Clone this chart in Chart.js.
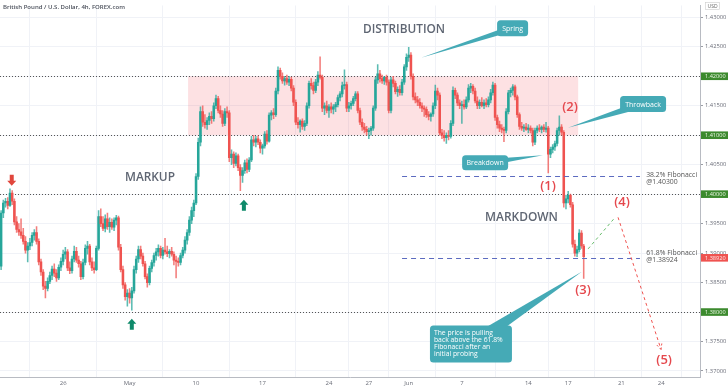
<!DOCTYPE html>
<html><head><meta charset="utf-8">
<script src="https://cdn.jsdelivr.net/npm/chart.js@4.4.0/dist/chart.umd.min.js"></script>
<style>html,body{margin:0;padding:0;background:#fff}#w{width:728px;height:391px;position:relative}</style>
</head><body><div id="w"><canvas id="c"></canvas></div>
<script>
// ---- GBP/USD 4h candles (bar index 0 = first candle on the left) ----
const opens=[
1.3878,1.3968,1.3985,1.3988,1.3981,1.4002,1.3988,1.3953,1.3940,1.3936,1.3930,1.3920,
1.3905,1.3912,1.3918,1.3930,1.3935,1.3920,1.3885,1.3868,1.3844,1.3840,1.3852,1.3862,
1.3873,1.3866,1.3858,1.3876,1.3886,1.3898,1.3902,1.3875,1.3870,1.3890,1.3903,1.3888,
1.3882,1.3860,1.3884,1.3908,1.3912,1.3885,1.3875,1.3872,1.3908,1.3962,1.3950,1.3942,
1.3958,1.3945,1.3952,1.3944,1.3956,1.3960,1.3910,1.3872,1.3846,1.3826,1.3832,1.3824,
1.3836,1.3872,1.3890,1.3906,1.3895,1.3882,1.3860,1.3850,1.3874,1.3884,1.3896,1.3902,
1.3908,1.3896,1.3905,1.3902,1.3899,1.3903,1.3898,1.3888,1.3886,1.3884,1.3896,1.3905,
1.3922,1.3935,1.3956,1.3972,1.3985,1.4030,1.4088,1.4140,1.4122,1.4118,1.4125,1.4132,
1.4128,1.4150,1.4162,1.4142,1.4136,1.4120,1.4140,1.4138,1.4062,1.4068,1.4052,1.4065,
1.4045,1.4032,1.4040,1.4053,1.4042,1.4058,1.4092,1.4088,1.4094,1.4088,1.4078,1.4082,
1.4102,1.4090,1.4134,1.4138,1.4135,1.4175,1.4210,1.4200,1.4192,1.4196,1.4190,1.4195,
1.4180,1.4156,1.4122,1.4118,1.4124,1.4115,1.4120,1.4150,1.4188,1.4184,1.4176,1.4190,
1.4202,1.4198,1.4146,1.4150,1.4142,1.4148,1.4144,1.4148,1.4152,1.4164,1.4170,1.4184,
1.4186,1.4146,1.4150,1.4154,1.4162,1.4170,1.4142,1.4122,1.4114,1.4110,1.4106,1.4108,
1.4112,1.4146,1.4194,1.4204,1.4196,1.4192,1.4198,1.4190,1.4142,1.4194,1.4188,1.4174,
1.4178,1.4172,1.4190,1.4216,1.4232,1.4236,1.4200,1.4165,1.4160,1.4156,1.4150,1.4146,
1.4144,1.4135,1.4132,1.4136,1.4150,1.4175,1.4168,1.4104,1.4100,1.4096,1.4100,1.4098,
1.4120,1.4176,1.4168,1.4155,1.4150,1.4152,1.4148,1.4160,1.4180,1.4183,1.4175,1.4158,
1.4150,1.4156,1.4150,1.4155,1.4152,1.4160,1.4172,1.4185,1.4130,1.4118,1.4112,1.4110,
1.4108,1.4140,1.4172,1.4176,1.4182,1.4165,1.4135,1.4115,1.4112,1.4114,1.4110,1.4112,
1.4108,1.4088,1.4108,1.4112,1.4110,1.4114,1.4110,1.4112,1.4068,1.4076,1.4080,1.4086,
1.4108,1.4114,1.4105,1.3985,1.3992,1.3998,1.3982,1.3915,1.3900,1.3906,1.3934,1.3912];
const highs=[
1.3972,1.3990,1.3993,1.3994,1.4009,1.4006,1.3992,1.3962,1.3950,1.3958,1.3942,1.3928,
1.3918,1.3925,1.3935,1.3940,1.3945,1.3924,1.3890,1.3872,1.3852,1.3858,1.3868,1.3878,
1.3882,1.3872,1.3880,1.3892,1.3905,1.3910,1.3906,1.3885,1.3895,1.3912,1.3910,1.3895,
1.3886,1.3890,1.3914,1.3920,1.3915,1.3892,1.3885,1.3912,1.3972,1.3975,1.3962,1.3965,
1.3968,1.3960,1.3958,1.3960,1.3964,1.3963,1.3915,1.3878,1.3850,1.3838,1.3840,1.3842,
1.3878,1.3895,1.3912,1.3912,1.3900,1.3886,1.3865,1.3878,1.3888,1.3900,1.3908,1.3914,
1.3912,1.3910,1.3925,1.3912,1.3906,1.3910,1.3902,1.3895,1.3892,1.3900,1.3910,1.3928,
1.3940,1.3962,1.3978,1.3990,1.4035,1.4095,1.4148,1.4150,1.4135,1.4130,1.4138,1.4140,
1.4155,1.4168,1.4166,1.4150,1.4142,1.4145,1.4148,1.4142,1.4075,1.4072,1.4070,1.4068,
1.4050,1.4045,1.4058,1.4060,1.4062,1.4098,1.4100,1.4098,1.4099,1.4092,1.4085,1.4106,
1.4108,1.4138,1.4142,1.4145,1.4180,1.4216,1.4214,1.4206,1.4200,1.4202,1.4200,1.4198,
1.4184,1.4160,1.4130,1.4126,1.4128,1.4125,1.4155,1.4192,1.4196,1.4190,1.4195,1.4208,
1.4233,1.4202,1.4155,1.4158,1.4152,1.4155,1.4152,1.4156,1.4168,1.4174,1.4190,1.4211,
1.4190,1.4156,1.4158,1.4166,1.4174,1.4174,1.4146,1.4128,1.4120,1.4115,1.4112,1.4115,
1.4150,1.4198,1.4220,1.4210,1.4202,1.4200,1.4202,1.4194,1.4198,1.4200,1.4192,1.4182,
1.4184,1.4195,1.4220,1.4238,1.4249,1.4240,1.4204,1.4172,1.4166,1.4162,1.4155,1.4150,
1.4148,1.4140,1.4138,1.4155,1.4185,1.4180,1.4172,1.4110,1.4108,1.4104,1.4108,1.4125,
1.4182,1.4180,1.4172,1.4160,1.4158,1.4160,1.4165,1.4186,1.4188,1.4186,1.4180,1.4165,
1.4160,1.4164,1.4160,1.4162,1.4165,1.4178,1.4190,1.4188,1.4134,1.4124,1.4118,1.4114,
1.4145,1.4176,1.4180,1.4186,1.4185,1.4168,1.4138,1.4122,1.4118,1.4120,1.4118,1.4116,
1.4112,1.4112,1.4116,1.4118,1.4116,1.4118,1.4122,1.4115,1.4080,1.4084,1.4090,1.4112,
1.4133,1.4118,1.4108,1.3998,1.4005,1.4000,1.3986,1.3922,1.3912,1.3940,1.3938,1.3915];
const lows=[
1.3872,1.3960,1.3978,1.3975,1.3979,1.3982,1.3948,1.3935,1.3930,1.3925,1.3915,1.3900,
1.3885,1.3906,1.3912,1.3922,1.3915,1.3880,1.3862,1.3838,1.3824,1.3836,1.3848,1.3855,
1.3860,1.3852,1.3855,1.3870,1.3880,1.3890,1.3870,1.3865,1.3866,1.3885,1.3884,1.3876,
1.3855,1.3856,1.3880,1.3898,1.3880,1.3870,1.3866,1.3870,1.3905,1.3945,1.3938,1.3936,
1.3940,1.3935,1.3940,1.3938,1.3948,1.3905,1.3868,1.3840,1.3820,1.3810,1.3815,1.3803,
1.3832,1.3866,1.3884,1.3890,1.3878,1.3856,1.3842,1.3846,1.3868,1.3878,1.3888,1.3895,
1.3892,1.3890,1.3898,1.3894,1.3892,1.3895,1.3880,1.3858,1.3878,1.3880,1.3892,1.3900,
1.3915,1.3930,1.3950,1.3962,1.3982,1.4025,1.4082,1.4115,1.4112,1.4110,1.4118,1.4120,
1.4124,1.4145,1.4138,1.4130,1.4115,1.4116,1.4130,1.4055,1.4050,1.4045,1.4048,1.4040,
1.4006,1.4020,1.4035,1.4036,1.4038,1.4055,1.4082,1.4080,1.4084,1.4070,1.4068,1.4078,
1.4085,1.4088,1.4126,1.4128,1.4132,1.4170,1.4195,1.4188,1.4185,1.4186,1.4184,1.4175,
1.4150,1.4118,1.4112,1.4105,1.4110,1.4108,1.4116,1.4146,1.4178,1.4170,1.4172,1.4184,
1.4195,1.4140,1.4135,1.4138,1.4130,1.4138,1.4136,1.4140,1.4148,1.4158,1.4165,1.4178,
1.4140,1.4140,1.4144,1.4150,1.4158,1.4138,1.4118,1.4108,1.4104,1.4100,1.4094,1.4100,
1.4108,1.4142,1.4188,1.4190,1.4188,1.4186,1.4185,1.4138,1.4138,1.4182,1.4170,1.4166,
1.4168,1.4168,1.4186,1.4210,1.4225,1.4195,1.4160,1.4155,1.4150,1.4146,1.4140,1.4132,
1.4130,1.4126,1.4124,1.4132,1.4145,1.4160,1.4100,1.4094,1.4090,1.4086,1.4092,1.4095,
1.4116,1.4162,1.4150,1.4145,1.4120,1.4144,1.4145,1.4156,1.4172,1.4170,1.4155,1.4145,
1.4145,1.4148,1.4145,1.4148,1.4148,1.4155,1.4168,1.4125,1.4112,1.4106,1.4104,1.4089,
1.4104,1.4136,1.4165,1.4168,1.4160,1.4130,1.4110,1.4108,1.4106,1.4108,1.4104,1.4104,
1.4082,1.4084,1.4104,1.4106,1.4104,1.4106,1.4105,1.4036,1.4062,1.4070,1.4074,1.4082,
1.4100,1.4100,1.3978,1.3975,1.3985,1.3978,1.3910,1.3895,1.3894,1.3902,1.3908,1.3857];
const closes=[
1.3968,1.3985,1.3988,1.3981,1.4002,1.3988,1.3953,1.3940,1.3936,1.3930,1.3920,1.3905,
1.3912,1.3918,1.3930,1.3935,1.3920,1.3885,1.3868,1.3844,1.3840,1.3852,1.3862,1.3873,
1.3866,1.3858,1.3876,1.3886,1.3898,1.3902,1.3875,1.3870,1.3890,1.3903,1.3888,1.3882,
1.3860,1.3884,1.3908,1.3912,1.3885,1.3875,1.3872,1.3908,1.3962,1.3950,1.3942,1.3958,
1.3945,1.3952,1.3944,1.3956,1.3960,1.3910,1.3872,1.3846,1.3826,1.3832,1.3824,1.3836,
1.3872,1.3890,1.3906,1.3895,1.3882,1.3860,1.3850,1.3874,1.3884,1.3896,1.3902,1.3908,
1.3896,1.3905,1.3902,1.3899,1.3903,1.3898,1.3888,1.3886,1.3884,1.3896,1.3905,1.3922,
1.3935,1.3956,1.3972,1.3985,1.4030,1.4088,1.4140,1.4122,1.4118,1.4125,1.4132,1.4128,
1.4150,1.4162,1.4142,1.4136,1.4120,1.4140,1.4138,1.4062,1.4068,1.4052,1.4065,1.4045,
1.4032,1.4040,1.4053,1.4042,1.4058,1.4092,1.4088,1.4094,1.4088,1.4078,1.4082,1.4102,
1.4090,1.4134,1.4138,1.4135,1.4175,1.4210,1.4200,1.4192,1.4196,1.4190,1.4195,1.4180,
1.4156,1.4122,1.4118,1.4124,1.4115,1.4120,1.4150,1.4188,1.4184,1.4176,1.4190,1.4202,
1.4198,1.4146,1.4150,1.4142,1.4148,1.4144,1.4148,1.4152,1.4164,1.4170,1.4184,1.4186,
1.4146,1.4150,1.4154,1.4162,1.4170,1.4142,1.4122,1.4114,1.4110,1.4106,1.4108,1.4112,
1.4146,1.4194,1.4204,1.4196,1.4192,1.4198,1.4190,1.4142,1.4194,1.4188,1.4174,1.4178,
1.4172,1.4190,1.4216,1.4232,1.4236,1.4200,1.4165,1.4160,1.4156,1.4150,1.4146,1.4144,
1.4135,1.4132,1.4136,1.4150,1.4175,1.4168,1.4104,1.4100,1.4096,1.4100,1.4098,1.4120,
1.4176,1.4168,1.4155,1.4150,1.4152,1.4148,1.4160,1.4180,1.4183,1.4175,1.4158,1.4150,
1.4156,1.4150,1.4155,1.4152,1.4160,1.4172,1.4185,1.4130,1.4118,1.4112,1.4110,1.4108,
1.4140,1.4172,1.4176,1.4182,1.4165,1.4135,1.4115,1.4112,1.4114,1.4110,1.4112,1.4108,
1.4088,1.4108,1.4112,1.4110,1.4114,1.4110,1.4112,1.4068,1.4076,1.4080,1.4086,1.4108,
1.4114,1.4105,1.3985,1.3992,1.3998,1.3982,1.3915,1.3900,1.3906,1.3934,1.3912,1.3894];

// date labels on the time axis (bar index where each label sits)
const xTickIdx=[28,58,88,118,148,166,184,208,238,256,280,298];
const xTickText=['26','May','10','17','24','27','Jun','7','14','17','21','24'];
const yTicks=[1.370,1.375,1.380,1.385,1.390,1.395,1.400,1.405,1.410,1.415,1.420,1.425,1.430];
const keyLevels=[1.42,1.41,1.40,1.38];
const lastPrice=1.38920;
const fibPrices=[1.40300,1.38924];
const fibNames=['38.2% Fibonacci','61.8% Fibonacci'];
const rangeZone=[84.4,260.5,1.41,1.42];   // idx from, idx to, price low, price high
const waveNames=['(1)','(2)','(3)','(4)','(5)'];
const waveIdx=[246.9,256.8,262.7,280.3,299.3];
const wavePrice=[1.40141,1.41479,1.38369,1.39857,1.37183];

const UP='#26a69a', DOWN='#ef5350';
const N=closes.length;
const idx=[...Array(N).keys()];
const isUp=i=>closes[i]>=opens[i];

function fitFont(ctx,text,w,weight,fam){
  ctx.font=weight+' 20px '+fam;
  const m=ctx.measureText(text).width;
  ctx.font=weight+' '+(20*w/m).toFixed(2)+'px '+fam;
}
function rrect(ctx,x,y,w,h,r){
  ctx.beginPath();ctx.moveTo(x+r,y);ctx.lineTo(x+w-r,y);ctx.quadraticCurveTo(x+w,y,x+w,y+r);
  ctx.lineTo(x+w,y+h-r);ctx.quadraticCurveTo(x+w,y+h,x+w-r,y+h);ctx.lineTo(x+r,y+h);
  ctx.quadraticCurveTo(x,y+h,x,y+h-r);ctx.lineTo(x,y+r);ctx.quadraticCurveTo(x,y,x+r,y);ctx.closePath();
}

const annot={
  id:'annot',
  beforeDatasetsDraw(chart){
    const c=chart.ctx,X=v=>chart.scales.x.getPixelForValue(v),Y=v=>chart.scales.y.getPixelForValue(v),a=chart.chartArea;
    c.save();
    // distribution range box
    c.fillStyle='rgba(242,54,69,0.15)';
    c.fillRect(X(rangeZone[0]),Y(rangeZone[3]),X(rangeZone[1])-X(rangeZone[0]),Y(rangeZone[2])-Y(rangeZone[3]));
    // key levels dotted
    c.strokeStyle='#555';c.lineWidth=1;c.setLineDash([1,2]);
    keyLevels.forEach(p=>{const y=Math.round(Y(p))+0.5;c.beginPath();c.moveTo(a.left,y);c.lineTo(a.right,y);c.stroke();});
    c.restore();
  },
  afterDatasetsDraw(chart){
    const c=chart.ctx,X=v=>chart.scales.x.getPixelForValue(v),Y=v=>chart.scales.y.getPixelForValue(v);
    c.save();
    const FAM='"Open Sans", sans-serif';
    // fibonacci lines
    c.strokeStyle='#5c6bc0';c.lineWidth=1;c.setLineDash([5,4]);
    fibPrices.forEach(p=>{const y=Math.round(Y(p))+0.5;c.beginPath();c.moveTo(X(181),y);c.lineTo(X(288.4),y);c.stroke();});
    c.setLineDash([]);
    c.fillStyle='#555';c.textBaseline='middle';c.textAlign='left';
    fitFont(c,fibNames[0],51,'400',FAM);
    c.fillText(fibNames[0],X(291.2),Y(1.40325));
    c.fillText('@'+fibPrices[0].toFixed(5),X(291.2),Y(1.40208));
    c.fillText(fibNames[1],X(291.2),Y(1.39005));
    c.fillText('@'+fibPrices[1].toFixed(5),X(291.2),Y(1.38888));
    // phase titles
    c.fillStyle='#5f6673';c.textAlign='center';
    [['DISTRIBUTION',181.9,1.42783,82],['MARKUP',67.2,1.40275,50],['MARKDOWN',234.9,1.39607,73]].forEach(t=>{
      fitFont(c,t[0],t[3],'600',FAM);c.fillText(t[0],X(t[1]),Y(t[2]));
    });
    // projected path
    function dashArrow(x1,y1,x2,y2,col,head){
      c.strokeStyle=col;c.lineWidth=1;c.setLineDash([3,3]);
      c.beginPath();c.moveTo(x1,y1);c.lineTo(x2,y2);c.stroke();
      if(head){const ang=Math.atan2(y2-y1,x2-x1);c.setLineDash([2,2]);
        [0.45,-0.45].forEach(d=>{c.beginPath();c.moveTo(x2,y2);c.lineTo(x2-7*Math.cos(ang+d),y2-7*Math.sin(ang+d));c.stroke();});}
      c.setLineDash([]);
    }
    dashArrow(X(265),Y(1.39072),X(277.2),Y(1.39607),'#66bb6a',false);
    dashArrow(X(278.5),Y(1.39607),X(297.9),Y(1.37366),'#ef5350',true);
    // wave labels
    c.fillStyle='#e5484d';c.textAlign='center';c.font='600 13px '+FAM;
    waveNames.forEach((t,i)=>c.fillText(t,X(waveIdx[i]),Y(wavePrice[i])));
    // callouts
    const TEAL='#45aab6';
    function callout(lines,ci,cp,w,h,ti,tp,bw,fs,align){
      const cx=X(ci),cy=Y(cp),tx=X(ti),ty=Y(tp);
      const dx=tx-cx,dy=ty-cy,L=Math.hypot(dx,dy),px=-dy/L*bw,py=dx/L*bw;
      c.fillStyle=TEAL;c.beginPath();c.moveTo(cx+px,cy+py);c.lineTo(tx,ty);c.lineTo(cx-px,cy-py);c.closePath();c.fill();
      rrect(c,cx-w/2,cy-h/2,w,h,3.5);c.fill();
      c.fillStyle='#fff';c.font='500 '+fs+'px '+FAM;c.textBaseline='middle';
      if(align==='left'){c.textAlign='left';const lh=6.7,y0=cy-h/2+8;lines.forEach((t,k)=>c.fillText(t,cx-w/2+4,y0+k*lh));}
      else{c.textAlign='center';c.fillText(lines[0],cx,cy+0.5);}
    }
    callout(['Spring'],230.9,1.42816,31,16,189.6,1.42315,3,7,'c');
    callout(['Throwback'],289.8,1.41529,46,16,255.9,1.41128,4,7,'c');
    callout(['Breakdown'],218.5,1.40534,46,15,244.6,1.40660,3.5,7,'c');
    callout(['The price is pulling','back above the 61.8%','Fibonacci after an','initial probing'],212.1,1.37458,82,37,262.3,1.38687,7,6.8,'left');
    // signal arrows
    function blockArrow(cx,tipY,dir,col){
      const hw=4.5,hh=5,sw=2,sh=6;c.fillStyle=col;c.beginPath();
      c.moveTo(cx,tipY);c.lineTo(cx+hw,tipY-dir*hh);c.lineTo(cx+sw,tipY-dir*hh);c.lineTo(cx+sw,tipY-dir*(hh+sh));
      c.lineTo(cx-sw,tipY-dir*(hh+sh));c.lineTo(cx-sw,tipY-dir*hh);c.lineTo(cx-hw,tipY-dir*hh);c.closePath();c.fill();
    }
    blockArrow(X(4.8),Y(1.40141),1,'#e0463c');
    blockArrow(X(59),Y(1.37885),-1,'#0f8a6a');
    blockArrow(X(109.6),Y(1.39907),-1,'#0f8a6a');
    c.restore();
  },
  afterDraw(chart){
    const c=chart.ctx,Y=v=>chart.scales.y.getPixelForValue(v),a=chart.chartArea;
    c.save();
    const FAM='"Open Sans", sans-serif';
    c.textBaseline='middle';c.textAlign='left';
    keyLevels.forEach(p=>{const y=Y(p);c.fillStyle='#3c8a2e';c.fillRect(a.right+1,y-3.8,27,7.6);
      c.fillStyle='#eaf5e4';c.font='500 5.6px '+FAM;c.fillText(p.toFixed(5),a.right+5,y+0.3);});
    {const y=Y(lastPrice);c.fillStyle='#ef5350';c.fillRect(a.right+1,y-3.8,27,7.6);
      c.fillStyle='#fde8e8';c.font='500 5.6px '+FAM;c.fillText(lastPrice.toFixed(5),a.right+5,y+0.3);}
    // currency tag
    c.fillStyle='#fff';c.fillRect(a.right+5,2,15,8);c.strokeStyle='#ccc';c.lineWidth=0.6;c.strokeRect(a.right+5.5,2.5,14,7);
    c.fillStyle='#666';c.font='500 5px '+FAM;c.textAlign='center';c.fillText('USD',a.right+12.5,6.5);
    // title
    c.textAlign='left';c.fillStyle='#4a4f5a';fitFont(c,'British Pound / U.S. Dollar, 4h, FOREX.com',122,'600',FAM);
    c.fillText('British Pound / U.S. Dollar, 4h, FOREX.com',3,7);
    c.restore();
  }
};

new Chart(document.getElementById('c'),{
  type:'bar',
  data:{datasets:[
    {label:'wick',data:idx.map(i=>({x:i,y:[lows[i],highs[i]]})),
     backgroundColor:idx.map(i=>isUp(i)?'rgba(38,166,154,0.75)':'rgba(239,83,80,0.75)'),barThickness:0.9,grouped:false,order:2},
    {label:'body',data:idx.map(i=>({x:i,y:[opens[i],closes[i]]})),
     backgroundColor:idx.map(i=>isUp(i)?UP:DOWN),barThickness:1.9,grouped:false,order:1}
  ]},
  options:{
    responsive:true,maintainAspectRatio:false,animation:false,
    layout:{padding:0},
    plugins:{legend:{display:false},tooltip:{enabled:false},title:{display:false}},
    scales:{
      x:{type:'linear',min:-0.5,max:315.5,offset:false,
        afterBuildTicks:ax=>{ax.ticks=xTickIdx.map(v=>({value:v}));},
        afterFit:ax=>{ax.height=14;},
        ticks:{autoSkip:false,maxRotation:0,padding:3,color:'#6a6d78',font:{size:6,family:'"Open Sans", sans-serif'},
          callback:v=>xTickText[xTickIdx.indexOf(v)]},
        grid:{color:'#f0f2f7',drawTicks:false},
        border:{display:true,color:'#b8bbc2'}},
      y:{type:'linear',position:'right',min:1.36898,max:1.43201,
        afterBuildTicks:ax=>{ax.ticks=yTicks.map(v=>({value:v}));},
        afterFit:ax=>{ax.width=28;},
        ticks:{padding:2,color:'#6a6d78',font:{size:5.8,family:'"Open Sans", sans-serif'},callback:v=>v.toFixed(5)},
        grid:{color:'#f0f2f7',tickLength:3,tickColor:'#9a9da5'},
        border:{display:true,color:'#b8bbc2'}}
    }
  },
  plugins:[annot]
});
</script></body></html>
